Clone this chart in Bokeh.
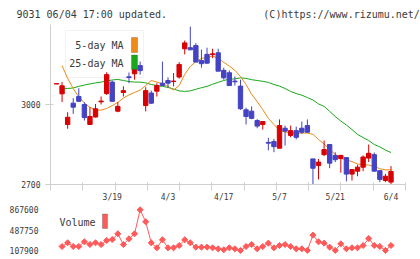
import numpy as np
from bokeh.plotting import figure
from bokeh.layouts import column
from bokeh.models import Range1d, FixedTicker, Label, BoxAnnotation, ColumnDataSource
from bokeh.embed import file_html
from bokeh.resources import INLINE

# Daily prices for 9031, 3/5 .. 6/4 (61 sessions)
opens = [3077, 3040, 2925, 3005, 3030, 3000, 2925, 2953, 3010, 3041,
         3084, 2975, 3045, 3104, 3115, 3146, 2996, 3043, 3050, 3080,
         3090, 3086, 3103, 3209, 3213, 3221, 3165, 3188, 3187, 3194,
         3128, 3119, 3088, 3069, 2980, 2975, 2940, 2925, 2858, 2861,
         2836, 2911, 2884, 2902, 2911, 2921, 2796, 2771, 2812, 2850,
         2809, 2797, 2801, 2739, 2750, 2765, 2799, 2812, 2752, 2715,
         2709]
highs = [3078, 3084, 2971, 3024, 3061, 3008, 2990, 3002, 3030, 3121,
         3090, 3009, 3068, 3120, 3155, 3161, 3065, 3052, 3080, 3161,
         3102, 3118, 3159, 3240, 3292, 3230, 3206, 3213, 3209, 3209,
         3138, 3128, 3105, 3093, 2988, 2993, 2945, 2936, 2875, 2871,
         2944, 2921, 2921, 2917, 2936, 2944, 2796, 2796, 2865, 2850,
         2821, 2811, 2801, 2756, 2774, 2809, 2850, 2820, 2752, 2740,
         2769]
lows = [3077, 3009, 2909, 2965, 3009, 2940, 2925, 2951, 3000, 3036,
        3010, 2971, 3030, 3080, 3093, 3112, 2974, 3002, 3030, 3071,
        3063, 3068, 3097, 3188, 3205, 3159, 3138, 3153, 3174, 3125,
        3093, 3071, 3071, 2980, 2925, 2945, 2911, 2906, 2828, 2821,
        2836, 2846, 2877, 2869, 2890, 2893, 2700, 2719, 2806, 2761,
        2784, 2744, 2712, 2715, 2731, 2750, 2784, 2750, 2709, 2709,
        2700]
closes = [3078, 3070, 2952, 2990, 3012, 2951, 2955, 2984, 3013, 3112,
          3012, 2993, 3052, 3101, 3140, 3127, 3052, 3005, 3071, 3071,
          3080, 3088, 3150, 3231, 3205, 3159, 3153, 3155, 3190, 3125,
          3100, 3071, 3085, 2984, 2955, 2948, 2919, 2936, 2855, 2842,
          2921, 2900, 2902, 2877, 2896, 2896, 2761, 2784, 2831, 2780,
          2793, 2809, 2739, 2756, 2765, 2803, 2817, 2750, 2719, 2731,
          2749]

nan = float("nan")
ma5 = [nan, 3146, 3098, 3060, 3028, 3006, 2989, 2979, 2979, 2985,
       2996, 3008, 3024, 3036, 3045, 3054, 3071, 3090, 3084, 3078,
       3068, 3054, 3071, 3113, 3143, 3161, 3173, 3176, 3182, 3173,
       3158, 3144, 3128, 3105, 3075, 3038, 3011, 2981, 2948, 2925,
       2903, 2897, 2893, 2891, 2893, 2893, 2888, 2869, 2852, 2831,
       2813, 2799, 2792, 2786, 2777, 2774, 2773, 2768, 2759, 2755,
       2755]
ma25 = [nan, 3059, 3060, 3062, 3068, 3073, 3077, 3081, 3084, 3088,
        3092, 3094, 3090, 3086, 3084, 3084, 3081, 3075, 3071, 3068,
        3064, 3058, 3051, 3049, 3051, 3057, 3063, 3068, 3076, 3083,
        3090, 3095, 3096, 3100, 3098, 3093, 3090, 3087, 3083, 3075,
        3069, 3060, 3049, 3041, 3035, 3026, 3017, 3002, 2993, 2974,
        2955, 2938, 2923, 2906, 2888, 2876, 2865, 2850, 2841, 2829,
        2820]
volume = [nan, 182600, 251100, 182600, 182600, 269800, 220000, 251100, 220000, 294700,
          313400, 419200, 220000, 325800, 419200, 867600, 643400, 251100, 157700, 307200,
          157700, 157700, 201300, 307200, 251100, 170200, 170200, 170200, 157700, 139000,
          120400, 157700, 139000, 107900, 182600, 220000, 139000, 182600, 244900, 157700,
          201300, 220000, 182600, 139000, 139000, 110000, 394300, 269800, 244900, 170200,
          110000, 232400, 139000, 157700, 157700, 201300, 332100, 201300, 182600, 110000,
          201300]

date_ticks = [10, 20, 30, 40, 50, 60]
date_labels = ["3/19", "4/3", "4/17", "5/7", "5/21", "6/4"]
price_ticks = [2700, 3000]
volume_ticks = [107900, 487750, 867600]

RED, BLUE = "#d80000", "#4343c3"
ORANGE, GREEN = "#ef8a17", "#19a819"
VOLC = "#ff5a5a"
AXIS = "#cfcfcf"
TEXT = "#3a3a3a"
FONT = "DejaVu Sans Mono"

n = len(closes)
idx = np.arange(n)
o = np.array(opens, float)
c = np.array(closes, float)
colors = [RED if cc >= oo else BLUE for oo, cc in zip(o, c)]
src = ColumnDataSource(dict(x=idx, high=highs, low=lows,
                            top=np.maximum(o, c), bottom=np.minimum(o, c),
                            color=colors))

# horizontal scale: one session = 5.575 px, first session 6 px inside the frame
PX = 5.575
FW = 355
x0 = -6 / PX
xr = Range1d(x0, x0 + FW / PX)

# ---------------- price panel ----------------
p = figure(frame_width=FW, frame_height=160, x_range=xr, y_range=Range1d(2700, 3300),
           output_backend="svg", toolbar_location=None,
           min_border_left=50, min_border_right=15, min_border_top=24, min_border_bottom=20)
p.grid.visible = False
p.outline_line_color = None
p.background_fill_color = "white"
p.border_fill_color = "white"

p.line(idx, ma25, color=GREEN, line_width=1)
p.line(idx, ma5, color=ORANGE, line_width=1)
p.segment(x0="x", y0="low", x1="x", y1="high", color="color", line_width=1, source=src)
p.vbar(x="x", width=0.78, top="top", bottom="bottom", fill_color="color",
       line_color="color", line_width=1, source=src)

# bottom axis: short grey ticks splitting the span into 11 parts, date labels
p.xaxis.ticker = FixedTicker(ticks=date_ticks,
                             minor_ticks=list(np.linspace(xr.start, xr.end, 12)))
p.xaxis.major_label_overrides = dict(zip(date_ticks, date_labels))
p.xaxis.major_label_text_font = FONT
p.xaxis.major_label_text_font_size = "8px"
p.xaxis.major_label_text_color = TEXT
p.xaxis.major_label_standoff = 2
p.xaxis.major_tick_in = 0
p.xaxis.major_tick_out = 6
p.xaxis.major_tick_line_color = None
p.xaxis.minor_tick_in = 2
p.xaxis.minor_tick_out = 6
p.xaxis.minor_tick_line_color = AXIS
p.xaxis.axis_line_color = AXIS

p.yaxis.ticker = FixedTicker(ticks=price_ticks)
p.yaxis.major_label_overrides = {t: str(t) for t in price_ticks}
p.yaxis.major_label_text_font = FONT
p.yaxis.major_label_text_font_size = "8px"
p.yaxis.major_label_text_color = TEXT
p.yaxis.major_label_standoff = 5
p.yaxis.major_tick_in = 3
p.yaxis.major_tick_out = 5
p.yaxis.axis_line_color = AXIS
p.yaxis.major_tick_line_color = AXIS
p.yaxis.minor_tick_line_color = None

# header line: code / update time on the left, copyright on the right
p.title.text = "9031 06/04 17:00 updated." + "\u00a0" * 16 + "(C)https://www.rizumu.net/"
p.title.text_font = FONT
p.title.text_font_size = "10px"
p.title.text_font_style = "normal"
p.title.text_color = TEXT
p.title.align = "left"
p.title.offset = -34
p.title.standoff = 9

# moving-average key
p.add_layout(BoxAnnotation(left=65, right=143, top=30, bottom=77,
                           left_units="canvas", right_units="canvas",
                           top_units="canvas", bottom_units="canvas",
                           fill_color="white", fill_alpha=0.0,
                           line_color="#d4d4d4", line_width=1, level="underlay"))
for label, color, yc, ytop, ybot in [("5-day MA", ORANGE, 45, 37, 52),
                                      ("25-day MA", GREEN, 63, 54.5, 69)]:
    p.add_layout(Label(x=123, y=yc, x_units="canvas", y_units="canvas", text=label,
                       text_align="right", text_baseline="middle",
                       text_font=FONT, text_font_size="10px", text_color=TEXT))
    p.add_layout(BoxAnnotation(left=131, right=137, top=ytop, bottom=ybot,
                               left_units="canvas", right_units="canvas",
                               top_units="canvas", bottom_units="canvas",
                               fill_color=color, fill_alpha=1.0,
                               line_color="#444444", line_width=1))

# ---------------- volume panel ----------------
p2 = figure(frame_width=FW, frame_height=51, x_range=xr, y_range=Range1d(14570, 966500),
            x_axis_location=None, output_backend="svg", toolbar_location=None,
            min_border_left=50, min_border_right=15, min_border_top=0, min_border_bottom=4)
p2.grid.visible = False
p2.outline_line_color = None
p2.background_fill_color = "white"
p2.border_fill_color = "white"

p2.line(idx, volume, color=VOLC, line_width=1)
p2.scatter(idx, volume, marker="square", angle=np.pi / 4, size=4.3,
           fill_color=VOLC, line_color=VOLC)

p2.yaxis.ticker = FixedTicker(ticks=volume_ticks)
p2.yaxis.major_label_overrides = {t: str(t) for t in volume_ticks}
p2.yaxis.major_label_text_font = FONT
p2.yaxis.major_label_text_font_size = "8px"
p2.yaxis.major_label_text_color = TEXT
p2.yaxis.major_label_standoff = 6
p2.yaxis.axis_line_color = None
p2.yaxis.major_tick_line_color = None
p2.yaxis.minor_tick_line_color = None

p2.add_layout(Label(x=59, y=18, x_units="canvas", y_units="canvas", text="Volume",
                    text_baseline="middle", text_font=FONT, text_font_size="10px",
                    text_color=TEXT))
p2.add_layout(BoxAnnotation(left=102, right=107, top=9.5, bottom=24,
                            left_units="canvas", right_units="canvas",
                            top_units="canvas", bottom_units="canvas",
                            fill_color=VOLC, fill_alpha=1.0,
                            line_color="#444444", line_width=1))

layout = column(p, p2, spacing=0)
open("out.html", "w").write(file_html(layout, INLINE))
